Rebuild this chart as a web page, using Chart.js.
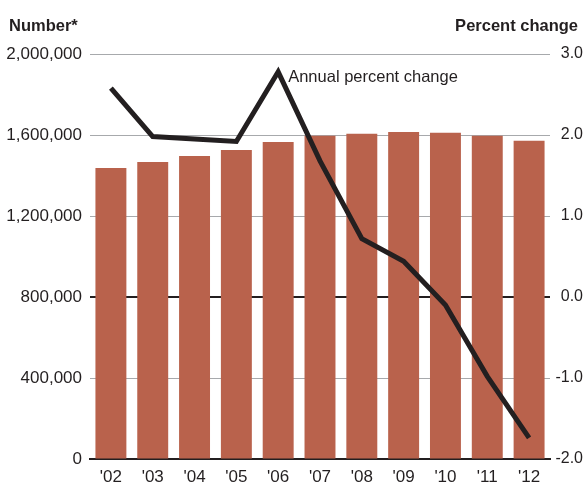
<!DOCTYPE html>
<html lang="en">
<head>
    <meta charset="UTF-8">
    <title>Number and annual percent change</title>
    <style>
        html, body { margin: 0; padding: 0; background: #fff; }
        #wrap { width: 583px; height: 483px; }
    </style>
</head>
<body>
    <div id="wrap">
        <canvas id="myChart" width="583" height="483"></canvas>
    </div>

    <script src="https://cdn.jsdelivr.net/npm/chart.js"></script>

    <script>
        // data
        const years = ["'02", "'03", "'04", "'05", "'06", "'07", "'08", "'09", "'10", "'11", "'12"]
        const numbers = [1437000, 1467000, 1496000, 1526000, 1565000, 1596000, 1606000, 1615000, 1611000, 1596000, 1572000]
        const pctChange = [2.58, 1.98, 1.95, 1.92, 2.78, 1.68, 0.72, 0.44, -0.10, -0.98, -1.74]
        const leftTicks = [0, 400000, 800000, 1200000, 1600000, 2000000]
        const rightTicks = [-2, -1, 0, 1, 2, 3]

        const FONT = "'Liberation Sans', Arial, sans-serif"
        const INK = '#231f20'

        // titles + line label
        const textPlugin = {
            id: 'texts',
            afterDraw(chart) {
                const c = chart.ctx
                c.save()
                c.fillStyle = INK
                c.textBaseline = 'alphabetic'
                c.font = 'bold 16.5px ' + FONT
                c.textAlign = 'left'
                c.fillText('Number*', 9, 31)
                c.textAlign = 'right'
                c.fillText('Percent change', 578, 31)

                const x = chart.scales.x.getPixelForValue(4)
                c.font = '16.5px ' + FONT
                c.textAlign = 'left'
                c.fillText('Annual percent change', x + 10, 82)
                c.restore()
            }
        }

        const ctx = document.getElementById('myChart')

        new Chart(ctx, {
            data: {
                labels: years,
                datasets: [{
                    type: 'line',
                    label: 'Annual percent change',
                    data: pctChange,
                    yAxisID: 'y1',
                    borderColor: INK,
                    borderWidth: 5,
                    pointRadius: 0,
                    tension: 0,
                    borderJoinStyle: 'miter',
                    order: 0
                }, {
                    type: 'bar',
                    label: 'Number',
                    data: numbers,
                    yAxisID: 'y',
                    backgroundColor: '#b9624c',
                    barPercentage: 0.74,
                    categoryPercentage: 1,
                    order: 1
                }]
            },
            options: {
                responsive: false,
                animation: false,
                layout: { padding: { top: 54, bottom: 0, left: 0, right: 0 } },
                plugins: {
                    legend: { display: false },
                    tooltip: { enabled: false }
                },
                scales: {
                    x: {
                        offset: true,
                        grid: { display: false },
                        border: { display: true, color: INK, width: 2 },
                        ticks: { color: INK, font: { family: FONT, size: 17 }, padding: 0 },
                        afterFit(s) { s.height = 24 }
                    },
                    y: {
                        position: 'left',
                        min: 0,
                        max: 2000000,
                        afterBuildTicks(s) { s.ticks = leftTicks.map(v => ({ value: v })) },
                        grid: {
                            drawTicks: false,
                            color: c => c.tick && c.tick.value === 800000 ? INK : '#a7a9ac',
                            lineWidth: c => c.tick && c.tick.value === 800000 ? 2 : 1
                        },
                        border: { display: false },
                        ticks: {
                            color: INK,
                            font: { family: FONT, size: 17 },
                            padding: 8,
                            callback: v => v.toLocaleString('en-US')
                        },
                        afterFit(s) { s.width = 90 }
                    },
                    y1: {
                        position: 'right',
                        min: -2,
                        max: 3,
                        afterBuildTicks(s) { s.ticks = rightTicks.map(v => ({ value: v })) },
                        grid: { drawOnChartArea: false, drawTicks: false },
                        border: { display: false },
                        ticks: {
                            color: INK,
                            font: { family: FONT, size: 16 },
                            padding: 0,
                            crossAlign: 'far',
                            callback: v => v.toFixed(1)
                        },
                        afterFit(s) { s.width = 33 }
                    }
                }
            },
            plugins: [textPlugin]
        })
    </script>
</body>
</html>
